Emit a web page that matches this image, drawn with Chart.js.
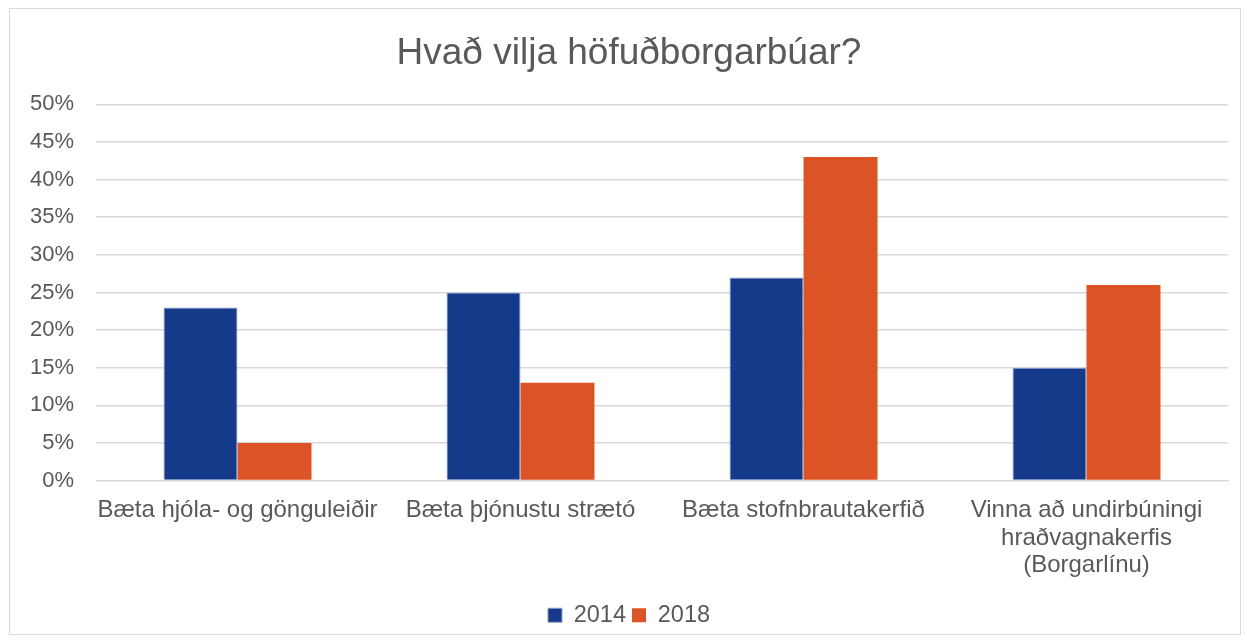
<!DOCTYPE html>
<html>
<head>
<meta charset="utf-8">
<script src="https://cdn.jsdelivr.net/npm/chart.js@4/dist/chart.umd.min.js"></script>
<style>
body { margin: 0; background: #fff; }
#wrap { position: absolute; left: 9px; top: 8px; width: 1230px; height: 625px; border: 1px solid #d9d9d9; }
</style>
</head>
<body>
<div id="wrap"><canvas id="chart"></canvas></div>
<script>
// gögn lesin af myndinni
const categories = [
  'Bæta hjóla- og gönguleiðir',
  'Bæta þjónustu strætó',
  'Bæta stofnbrautakerfið',
  ['Vinna að undirbúningi', 'hraðvagnakerfis', '(Borgarlínu)']
];
const values2014 = [23, 25, 27, 15];
const values2018 = [5, 13, 43, 26];
const yTicks = [0, 5, 10, 15, 20, 25, 30, 35, 40, 45, 50];

const grey = '#595959';
const font = 'Liberation Sans, Arial, sans-serif';

new Chart(document.getElementById('chart'), {
  type: 'bar',
  data: {
    labels: categories,
    datasets: [
      { label: '2014', data: values2014, backgroundColor: '#153a8a', borderColor: '#8a9cc6', borderWidth: 1 },
      { label: '2018', data: values2018, backgroundColor: '#dc5325' }
    ]
  },
  options: {
    responsive: true,
    maintainAspectRatio: false,
    animation: false,
    layout: { padding: { left: 20, right: 12, top: 23, bottom: -3 } },
    datasets: { bar: { categoryPercentage: 0.523, barPercentage: 1.0 } },
    plugins: {
      title: {
        display: true,
        text: 'Hvað vilja höfuðborgarbúar?',
        color: grey,
        font: { family: font, size: 37, weight: 'normal' },
        padding: { top: 0, bottom: 28 }
      },
      legend: {
        position: 'bottom',
        labels: {
          color: grey,
          font: { family: font, size: 23.5 },
          boxWidth: 14,
          boxHeight: 14,
          padding: 6
        }
      },
      tooltip: { enabled: false }
    },
    scales: {
      x: {
        grid: { display: false },
        border: { color: '#d9d9d9' },
        afterFit: axis => {
          axis.height = 117;
          axis.paddingLeft = 0;
          axis.paddingRight = 0;
        },
        ticks: { color: grey, font: { family: font, size: 24, lineHeight: 1.15 }, maxRotation: 0, autoSkip: false, padding: 8 }
      },
      y: {
        min: 0,
        max: 50,
        afterBuildTicks: axis => { axis.ticks = yTicks.map(v => ({ value: v })); },
        afterFit: axis => { axis.width = 66; },
        grid: { color: '#d9d9d9', lineWidth: 1.5, drawTicks: false },
        border: { display: false },
        ticks: { color: grey, font: { family: font, size: 22 }, padding: 22, callback: v => v + '%' }
      }
    }
  }
});
</script>
</body>
</html>
